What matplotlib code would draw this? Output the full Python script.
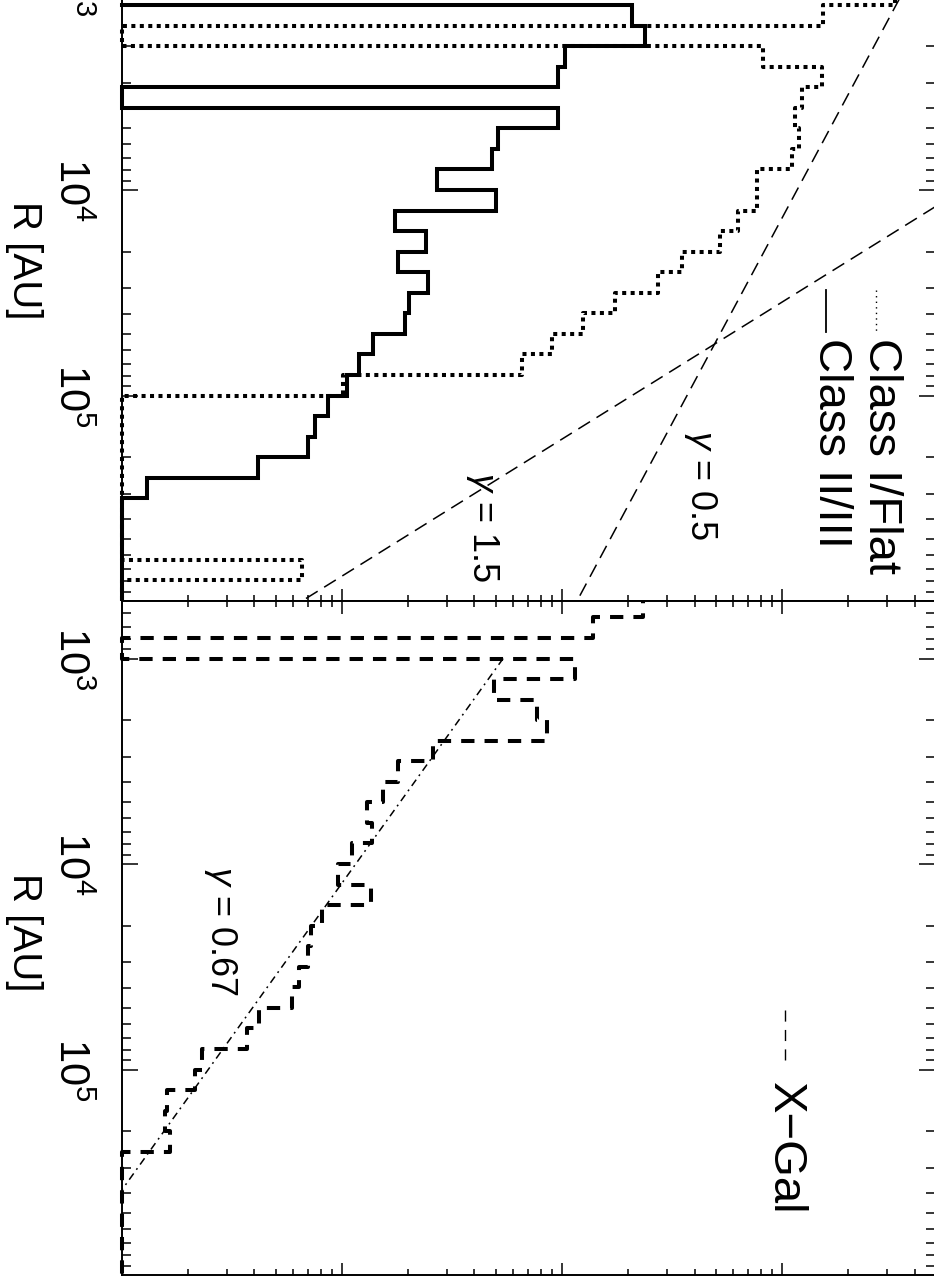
import numpy as np
import matplotlib.pyplot as plt
from matplotlib.lines import Line2D
from matplotlib.ticker import LogLocator, NullFormatter
from matplotlib.transforms import Bbox, TransformedBbox

plt.rcParams['font.family'] = ['Liberation Sans', 'DejaVu Sans']
plt.rcParams['mathtext.fontset'] = 'custom'
plt.rcParams['mathtext.rm'] = 'Liberation Sans'
plt.rcParams['mathtext.it'] = 'Liberation Sans:italic'
plt.rcParams['axes.linewidth'] = 1.4

W, H = 934, 1276

# histograms in 0.1 dex bins of log10(R / AU); start = first bin edge
bin_width = 0.1

class1_start = 3.0   # Class I / Flat (dotted)
class1_vals = [3265, 1536, 0, 820, 1520, 1233, 1145, 1195, 1110, 770,
               770, 631, 523, 351, 273, 174, 125, 90, 66, 10.1,
               0, 0, 0, 0, 0, 0, 0, 0, 6.6, 0]

class2_start = 3.1   # Class II / III (solid)
class2_vals = [208, 238, 103, 96, 0, 96, 51, 48, 27, 50,
               17.4, 24, 18, 24.6, 20.2, 19.3, 13.8, 11.9, 10.5, 8.6,
               7.5, 7.0, 4.15, 1.3, 0, 0, 0, 0, 0]

xgal_start = 2.7     # X-Gal (dashed)
xgal_vals = [233, 138, 0, 115, 49, 77, 85, 26, 18, 15.4,
             13, 13.7, 11.1, 9.6, 13.5, 8.1, 7.2, 7.0, 6.4, 5.9,
             4.2, 3.7, 2.3, 2.15, 1.6, 1.57, 1.65, 0, 0, 0,
             0, 0, 0]

# power-law fits N ~ R^-gamma, given as log N at log R = 6
fit_gamma = [0.5, 1.5]
fit_norm6 = [2.068, 0.818]
xgal_gamma = 0.67
xgal_norm6 = -0.278
xgal_fit_from = 3.0

r_ticks = [1e3, 1e4, 1e5]
r_labels = [r'$10^3$', r'$10^4$', r'$10^5$']
r_lim = (1e6, 10 ** 2.72)
n_lim = (1.0, 10 ** 3.695)


def fx(px):
    return px / W


def fy(py):
    return 1 - py / H


def steps(start, vals, floor=1.0):
    v = np.asarray(vals, dtype=float)
    v = np.where(v > 0, v, floor)
    edges = 10 ** (start + bin_width * np.arange(len(v) + 1))
    x = np.concatenate([[floor], np.repeat(v, 2), [floor]])
    y = np.repeat(edges, 2)
    return x, y


def hist(ax, start, vals, **kw):
    x, y = steps(start, vals)
    line, = ax.plot(x, y, color='black', lw=2.9, solid_joinstyle='miter',
                    dash_capstyle='butt', **kw)
    # let lines lying on the axis show fully
    line.set_clip_box(TransformedBbox(Bbox([[-0.01, 0], [1, 1]]), ax.transAxes))
    return line


def setup(ax):
    ax.set_xscale('log')
    ax.set_yscale('log')
    ax.set_xlim(*n_lim)
    ax.set_ylim(*r_lim)
    ax.set_yticks(r_ticks, labels=r_labels)
    ax.yaxis.set_minor_locator(LogLocator(base=10, subs=np.arange(2, 10), numticks=30))
    ax.yaxis.set_minor_formatter(NullFormatter())
    ax.xaxis.set_major_locator(LogLocator(base=10, numticks=30))
    ax.xaxis.set_minor_locator(LogLocator(base=10, subs=np.arange(2, 10), numticks=30))
    ax.xaxis.set_major_formatter(NullFormatter())
    ax.xaxis.set_minor_formatter(NullFormatter())
    ax.tick_params(axis='y', which='both', direction='in', left=True, right=True,
                   width=1.1)
    ax.tick_params(axis='y', which='major', length=11.5, pad=23, labelsize=30)
    ax.tick_params(axis='y', which='minor', length=6.5)
    ax.tick_params(axis='x', which='both', direction='in', top=True, bottom=True,
                   width=1.1, labelbottom=False)
    ax.tick_params(axis='x', which='major', length=9)
    ax.tick_params(axis='x', which='minor', length=4.5)
    for lbl in ax.get_yticklabels():
        lbl.set_rotation(-90)
        lbl.set_va('center')
        lbl.set_ha('right')


fig = plt.figure(figsize=(W / 100, H / 100), dpi=100)
ax_top = fig.add_axes([fx(122), fy(601), 813 / W, 674 / H])
ax_bot = fig.add_axes([fx(122), fy(1275), 813 / W, 674 / H])
setup(ax_top)
setup(ax_bot)

# upper panel: young stellar objects by class
hist(ax_top, class1_start, class1_vals, ls=(0, (1, 1.1)))
hist(ax_top, class2_start, class2_vals)
logr = np.array([2.6, 6.1])
for g, n6 in zip(fit_gamma, fit_norm6):
    ax_top.plot(10 ** (n6 + g * (6 - logr)), 10 ** logr, color='black', lw=1.1,
                ls=(0, (9, 5)))

# lower panel: extragalactic contamination
hist(ax_bot, xgal_start, xgal_vals, ls=(0, (3.3, 2.5)))
logr = np.array([xgal_fit_from, 6.1])
ax_bot.plot(10 ** (xgal_norm6 + xgal_gamma * (6 - logr)), 10 ** logr, color='black',
            lw=1.1, ls=(0, (5, 3, 1.2, 3)))

# axis titles
txt = dict(rotation=-90, ha='center', va='center', color='black')
fig.text(fx(24), fy(260), 'R [AU]', fontsize=29, **txt)
fig.text(fx(24), fy(932), 'R [AU]', fontsize=29, **txt)

# slope labels
fig.text(fx(700), fy(485), r'$\gamma$ = 0.5', fontsize=26, **txt)
fig.text(fx(482), fy(527), r'$\gamma$ = 1.5', fontsize=26, **txt)
fig.text(fx(220), fy(931), r'$\gamma$ = 0.67', fontsize=26, **txt)

# legends
leg = dict(rotation=-90, ha='center', va='top', color='black', fontsize=34)
fig.text(fx(881), fy(338), 'Class I/Flat', **leg)
fig.text(fx(831), fy(338), 'Class II/III', **leg)
fig.text(fx(785), fy(1082), 'X\u2212Gal', **leg)
fig.add_artist(Line2D([fx(876)] * 2, [fy(290), fy(332)], color='black', lw=1,
                      ls=(0, (1, 3))))
fig.add_artist(Line2D([fx(826)] * 2, [fy(290), fy(332)], color='black', lw=1.3))
fig.add_artist(Line2D([fx(785)] * 2, [fy(1010), fy(1068)], color='black', lw=1,
                      ls=(0, (8, 6))))

fig.savefig('out.png', dpi=100, facecolor='white')
